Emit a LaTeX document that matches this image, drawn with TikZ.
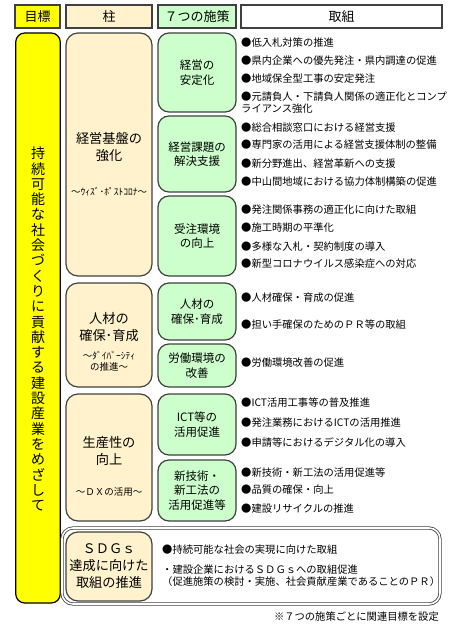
\documentclass[tikz,border=0pt]{standalone}
\usepackage{fontspec}
\setmainfont{Noto Sans CJK JP}
\definecolor{goalyellow}{RGB}{255,255,0}
\definecolor{pillarfill}{RGB}{255,242,204}
\definecolor{policyfill}{RGB}{204,255,204}
\definecolor{edgegray}{RGB}{64,64,64}
\tikzset{
  headbox/.style={draw=edgegray, line width=1.2pt, minimum height=23pt, inner sep=0, font=\fontsize{13}{15}\selectfont},
  goalbox/.style={draw=black, line width=1.2pt, fill=goalyellow, rounded corners=9pt, inner sep=0},
  pillarbox/.style={draw=edgegray, line width=1.2pt, fill=pillarfill, rounded corners=12pt, minimum width=86pt, inner sep=0},
  policybox/.style={draw=edgegray, line width=1.2pt, fill=policyfill, rounded corners=11pt, minimum width=78pt, inner sep=0, align=center, font=\fontsize{11.5}{14.5}\selectfont},
  pillartext/.style={align=center, inner sep=0, font=\fontsize{13.2}{17}\selectfont},
  subtext/.style={align=center, inner sep=0, font=\fontsize{9.5}{11}\selectfont},
  item/.style={anchor=west, align=left, inner sep=0, font=\fontsize{10.3}{12}\selectfont},
}

\begin{document}
\begin{tikzpicture}[x=1pt, y=-1pt]
\useasboundingbox (0,0) rectangle (449,634);

% header row
\node[headbox, fill=goalyellow, minimum width=45pt] (goalhead) at (37.5,16.5) {目標};
\node[headbox, fill=pillarfill, minimum width=86pt] (pillarhead) at (109,16.5) {柱};
\node[headbox, fill=policyfill, minimum width=78pt] (policyhead) at (197,16.5) {７つの施策};
\node[headbox, fill=white, minimum width=201pt] (actionhead) at (341.5,16.5) {取組};

% goal
\node[goalbox, minimum width=44.5pt, minimum height=570pt] (goal) at (38,318) {};
\node[align=center, inner sep=0, font=\fontsize{14}{15.3}\selectfont] (goaltxt) at (38,329)
  {持\\続\\可\\能\\な\\社\\会\\づ\\く\\り\\に\\貢\\献\\す\\る\\建\\設\\産\\業\\を\\め\\ざ\\し\\て};

% pillars
\node[pillarbox, minimum height=243pt] (p1) at (109,154.5) {};
\node[pillartext] (p1t) at (109,147) {経営基盤の\\強化};
\node[subtext] (p1s) at (109,192) {～ｳｨｽﾞ･ﾎﾟｽﾄｺﾛﾅ～};

\node[pillarbox, minimum height=104pt] (p2) at (109,335) {};
\node[pillartext] (p2t) at (109,327.5) {人材の\\確保･育成};
\node[subtext] (p2s) at (109,361.5) {～ﾀﾞｲﾊﾞｰｼﾃｨ\\の推進～};

\node[pillarbox, minimum height=127pt] (p3) at (109,457.5) {};
\node[pillartext] (p3t) at (109,451) {生産性の\\向上};
\node[subtext] (p3s) at (109,492) {～ＤＸの活用～};

% SDGs
\node[draw=edgegray, line width=0.8pt, double, double distance=1.6pt, fill=white, rounded corners=11pt,
      minimum width=378pt, minimum height=76pt, inner sep=0] (sdgsframe) at (251,566) {};
\node[pillarbox, pillartext, minimum height=69pt] (p4) at (109,566.5) {ＳＤＧｓ\\達成に向けた\\取組の推進};

% policies
\node[policybox, minimum height=79pt] (s1) at (197,72.5) {経営の\\安定化};
\node[policybox, minimum height=76pt] (s2) at (197,154) {経営課題の\\解決支援};
\node[policybox, minimum height=80pt] (s3) at (197,236) {受注環境\\の向上};
\node[policybox, minimum height=57pt] (s4) at (197,311.5) {人材の\\確保･育成};
\node[policybox, minimum height=43pt] (s5) at (197,365.5) {労働環境の\\改善};
\node[policybox, minimum height=61pt] (s6) at (197,424.5) {ICT等の\\活用促進};
\node[policybox, minimum height=61pt] (s7) at (197,490.5) {新技術・\\新工法の\\活用促進等};

% actions
\node[item] (a1) at (241,43) {●低入札対策の推進};
\node[item] (a2) at (241,61) {●県内企業への優先発注・県内調達の促進};
\node[item] (a3) at (241,79) {●地域保全型工事の安定発注};
\node[item] (a4) at (241,102.5) {●元請負人・下請負人関係の適正化とコンプ\\ライアンス強化};
\node[item] (b1) at (241,128) {●総合相談窓口における経営支援};
\node[item] (b2) at (241,145) {●専門家の活用による経営支援体制の整備};
\node[item] (b3) at (241,164) {●新分野進出、経営革新への支援};
\node[item] (b4) at (241,182) {●中山間地域における協力体制構築の促進};
\node[item] (c1) at (241,210) {●発注関係事務の適正化に向けた取組};
\node[item] (c2) at (241,228) {●施工時期の平準化};
\node[item] (c3) at (241,247) {●多様な入札・契約制度の導入};
\node[item] (c4) at (241,264) {●新型コロナウイルス感染症への対応};
\node[item] (d1) at (241,298) {●人材確保・育成の促進};
\node[item] (d2) at (241,325) {●担い手確保のためのＰＲ等の取組};
\node[item] (e1) at (241,363) {●労働環境改善の促進};
\node[item] (f1) at (241,403) {●ICT活用工事等の普及推進};
\node[item] (f2) at (241,423) {●発注業務におけるICTの活用推進};
\node[item] (f3) at (241,443) {●申請等におけるデジタル化の導入};
\node[item] (g1) at (241,473) {●新技術・新工法の活用促進等};
\node[item] (g2) at (241,490) {●品質の確保・向上};
\node[item] (g3) at (241,509) {●建設リサイクルの推進};
\node[item] (h1) at (162,550) {●持続可能な社会の実現に向けた取組};
\node[item] (h2) at (162,576) {・建設企業におけるＳＤＧｓへの取組促進\\（促進施策の検討・実施、社会貢献産業であることのＰＲ）};

\node[item, anchor=east] (note) at (439,617) {※７つの施策ごとに関連目標を設定};
\end{tikzpicture}
\end{document}
